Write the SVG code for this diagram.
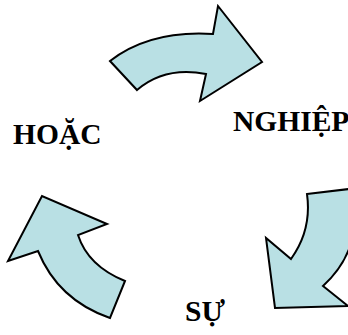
<svg xmlns="http://www.w3.org/2000/svg" width="348" height="335" viewBox="0 0 348 335">
<style>
.arrow{fill:#b9e0e4;stroke:#000;stroke-width:2;stroke-linejoin:miter}
.lbl{font-family:"Liberation Serif","Times New Roman",serif;font-weight:bold;font-size:29.5px;fill:#000}
</style>
<rect width="348" height="335" fill="#fff"/>
<g id="connectors">
<path id="arrow-top" class="arrow" d="M110,61 Q150,30 213,34 L218,6 L262,62 L200,101 L206,74 Q165,66 137,90 Z"/>
<path id="arrow-right" class="arrow" d="M307,194 L349,189 L352,240 Q345,266 323,286 L348,306 L275,308 L266,238 L291,259 Q312,230 307,194 Z"/>
<path id="arrow-left" class="arrow" d="M125,281 Q88,266 78,235 L107,224 L42,196 L8,261 L38,251 Q58,300 110,318 Z"/>
</g>
<g id="node-hoac"><text class="lbl" x="13" y="143.5">HOẶC</text></g>
<g id="node-nghiep"><text class="lbl" x="233" y="131">NGHIỆP</text></g>
<g id="node-su"><text class="lbl" x="185" y="321">SỰ</text></g>
</svg>
